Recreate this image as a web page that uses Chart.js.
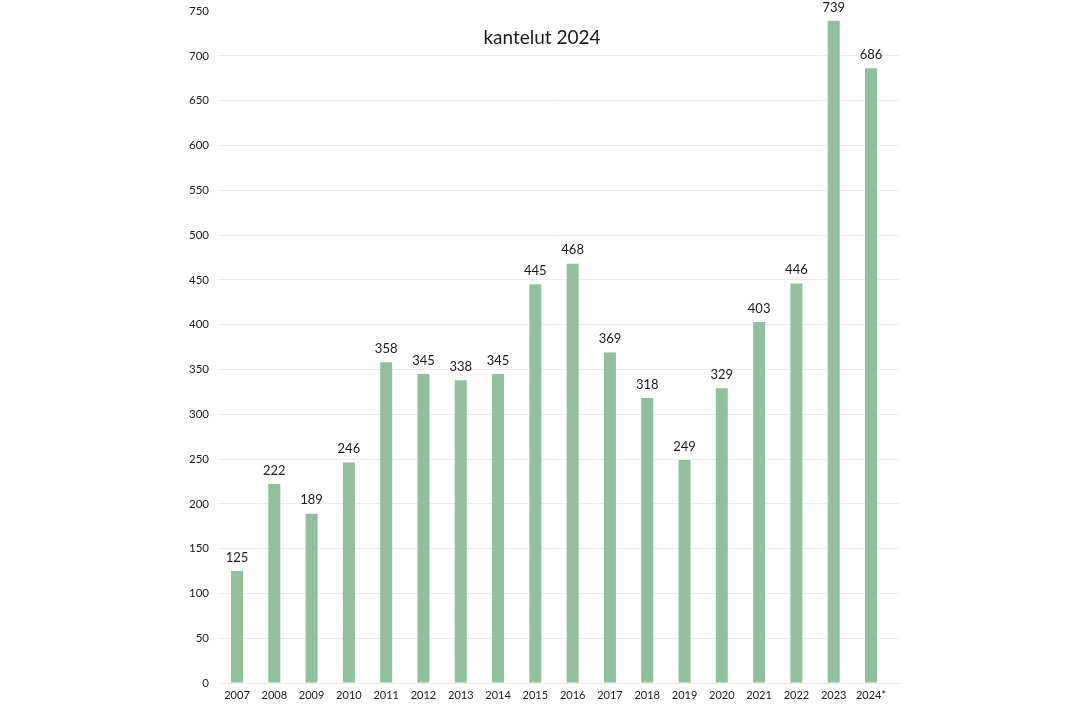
<!DOCTYPE html>
<html>
<head>
<meta charset="utf-8">
<script src="https://cdn.jsdelivr.net/npm/chart.js@4.4.1/dist/chart.umd.min.js"></script>
<style>
html,body{margin:0;padding:0;background:#fff;}
#wrap{width:1067px;height:706px;position:relative;}
</style>
</head>
<body>
<div id="wrap"><canvas id="c"></canvas></div>
<script>
const categories = ["2007","2008","2009","2010","2011","2012","2013","2014","2015","2016","2017","2018","2019","2020","2021","2022","2023","2024*"];
const values = [125,222,189,246,358,345,338,345,445,468,369,318,249,329,403,446,739,686];
const yTicks = [0,50,100,150,200,250,300,350,400,450,500,550,600,650,700,750];
const titleText = "kantelut 2024";

const FONT = "Lato, 'Noto Sans', sans-serif";

const points = values.map((v, i) => ({ x: i, y: v }));

const labelPlugin = {
  id: 'valueLabels',
  afterDatasetsDraw(chart) {
    const ctx = chart.ctx;
    const meta = chart.getDatasetMeta(0);
    ctx.save();
    ctx.fillStyle = '#1a1a1a';
    ctx.font = "13px " + FONT;
    ctx.textAlign = 'center';
    ctx.textBaseline = 'bottom';
    meta.data.forEach((bar, i) => {
      ctx.fillText(String(values[i]), bar.x, bar.y - 7);
    });
    ctx.restore();
  }
};

const titlePlugin = {
  id: 'innerTitle',
  afterDraw(chart) {
    const ctx = chart.ctx;
    ctx.save();
    ctx.fillStyle = '#1a1a1a';
    ctx.font = "19px " + FONT;
    ctx.textAlign = 'center';
    ctx.textBaseline = 'middle';
    ctx.fillText(titleText, 542, 38);
    ctx.restore();
  }
};

new Chart(document.getElementById('c'), {
  type: 'bar',
  data: {
    datasets: [{
      data: points,
      backgroundColor: '#93c09c',
      borderWidth: 0,
      barPercentage: 0.322,
      categoryPercentage: 1.0
    }]
  },
  options: {
    responsive: true,
    maintainAspectRatio: false,
    animation: false,
    devicePixelRatio: 1,
    layout: { padding: { left: 180, right: 168, top: 11, bottom: 2 } },
    plugins: {
      legend: { display: false },
      tooltip: { enabled: false },
      title: { display: false }
    },
    scales: {
      x: {
        type: 'linear',
        min: -0.5095,
        max: 17.751,
        offset: false,
        afterBuildTicks(scale) { scale.ticks = categories.map((c, i) => ({ value: i })); },
        grid: { display: false, drawTicks: false },
        border: { display: true, color: '#ebebeb' },
        ticks: {
          color: '#1a1a1a', font: { family: FONT, size: 11 }, padding: 6, maxRotation: 0, autoSkip: false,
          callback: (v) => categories[Math.round(v)] ?? ''
        },
        afterFit(scale) { scale.height = 21; scale.paddingLeft = 0; scale.paddingRight = 0; }
      },
      y: {
        min: 0,
        max: 750,
        afterBuildTicks(scale) { scale.ticks = yTicks.map(v => ({ value: v })); },
        grid: {
          color: (c) => (c.tick && c.tick.value === 750) ? 'rgba(0,0,0,0)' : '#ececec',
          drawTicks: false
        },
        border: { display: false },
        ticks: { color: '#1a1a1a', font: { family: FONT, size: 11.5 }, padding: 9 },
        afterFit(scale) { scale.width = 38; scale.paddingTop = 0; scale.paddingBottom = 0; }
      }
    }
  },
  plugins: [labelPlugin, titlePlugin]
});
</script>
</body>
</html>
